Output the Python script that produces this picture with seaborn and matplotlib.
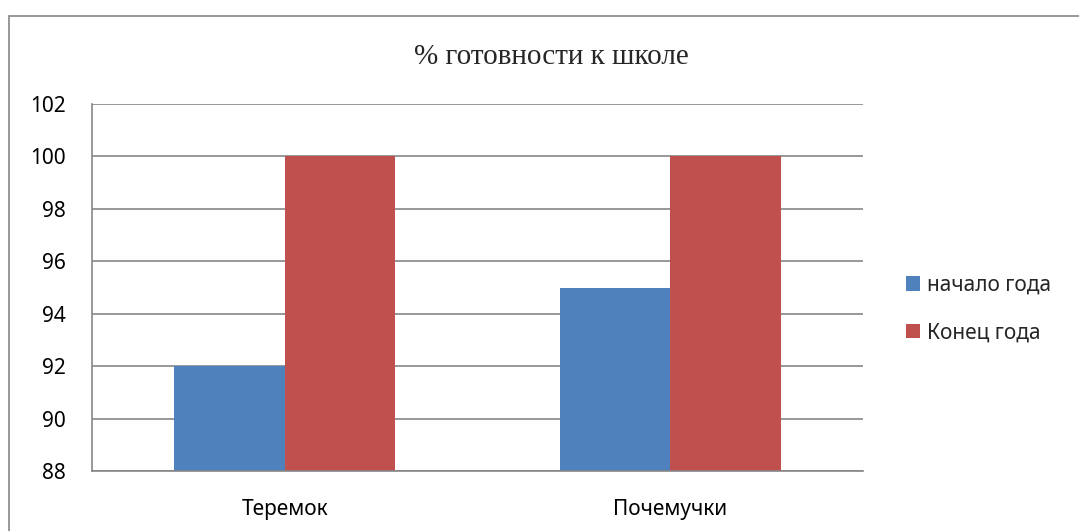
import pandas as pd
import seaborn as sns
import matplotlib
matplotlib.use("Agg")
from matplotlib import pyplot as plt
from matplotlib.patches import Rectangle

# data
groups = ["Теремок", "Почемучки"]
start_year = [92, 95]
end_year = [100, 100]
series_names = ["начало года", "Конец года"]
title = "% готовности к школе"

df = pd.DataFrame({
    "group": groups * 2,
    "value": start_year + end_year,
    "series": [series_names[0]] * len(groups) + [series_names[1]] * len(groups),
})

sns.set_style("white")
plt.rcParams['font.family'] = ['Noto Sans', 'DejaVu Sans']

fig = plt.figure(figsize=(10.79, 5.31), dpi=100)
ax = fig.add_axes([92 / 1079, 1 - 471 / 531, (863 - 92) / 1079, (471 - 104) / 531])

sns.barplot(data=df, x="group", y="value", hue="series", ax=ax,
            palette=["#4F81BD", "#C0504D"], width=0.572, saturation=1,
            edgecolor="none", linewidth=0)

ax.set_xlim(-0.5, 1.5)
ax.set_ylim(88, 102)
ax.set_yticks(range(88, 103, 2))
ax.yaxis.grid(True, color="#868686", linewidth=1.2)
ax.set_axisbelow(True)
ax.set_xlabel("")
ax.set_ylabel("")
for s in ["top", "right"]:
    ax.spines[s].set_visible(False)
for s in ["left", "bottom"]:
    ax.spines[s].set_color("#868686")
    ax.spines[s].set_linewidth(1.2)
ax.tick_params(axis="both", length=0, labelsize=15, colors="black")
ax.tick_params(axis="y", pad=19)
ax.tick_params(axis="x", pad=20)

ax.legend(loc="center left", bbox_to_anchor=(906 / 1079, 1 - 309 / 531),
          bbox_transform=fig.transFigure, frameon=False, fontsize=15,
          handlelength=0.68, handleheight=0.68, handletextpad=0.35,
          labelspacing=1.27, borderaxespad=0, borderpad=0)

fig.text(551 / 1079, 1 - 57 / 531, title, ha="center", va="center",
         fontsize=21, family=["Liberation Serif", "DejaVu Serif"])

fig.patches.append(Rectangle((9 / 1079, -0.1), 1.2, 1.1 - 16 / 531,
                             transform=fig.transFigure, fill=False,
                             edgecolor="#868686", linewidth=1.2))

plt.savefig("out.png", dpi=100)
